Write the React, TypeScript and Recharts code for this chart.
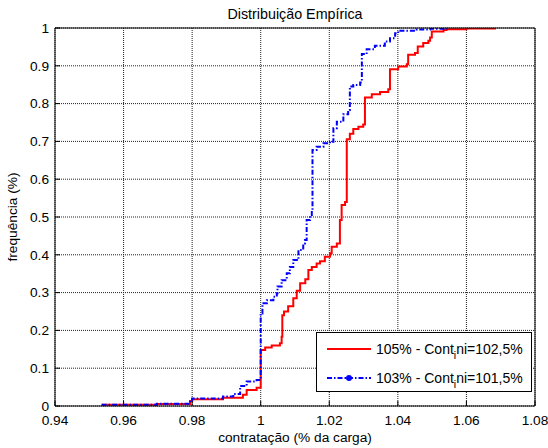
import { LineChart, Line, XAxis, YAxis, CartesianGrid, Legend } from "recharts";

// ECDF of contracted demand for two load levels (x = contratação, f = cumulative frequency)
const xTicks = [0.94, 0.96, 0.98, 1, 1.02, 1.04, 1.06, 1.08];
const yTicks = [0, 0.1, 0.2, 0.3, 0.4, 0.5, 0.6, 0.7, 0.8, 0.9, 1];

const x105 = [
  0.9536, 0.9697, 0.9794, 0.98, 0.989, 0.9948, 0.9959, 0.9988, 1.0, 1.0013,
  1.0032, 1.0056, 1.0061, 1.0063, 1.0068, 1.008, 1.0095, 1.0105, 1.0115, 1.013,
  1.0139, 1.0149, 1.0163, 1.0173, 1.0187, 1.0202, 1.0207, 1.0222, 1.0231, 1.0236,
  1.0246, 1.0251, 1.026, 1.027, 1.0285, 1.0299, 1.0304, 1.0324, 1.0348, 1.0372,
  1.0377, 1.0401, 1.0426, 1.043, 1.045, 1.0458, 1.0474, 1.0489, 1.0494, 1.0499,
  1.0533, 1.0542, 1.06, 1.0683,
];
const f105 = [
  0.003, 0.005, 0.013, 0.018, 0.022, 0.03, 0.042, 0.048, 0.148, 0.155,
  0.16, 0.166, 0.183, 0.24, 0.25, 0.264, 0.285, 0.305, 0.325, 0.335,
  0.36, 0.368, 0.377, 0.383, 0.395, 0.404, 0.421, 0.43, 0.492, 0.532,
  0.54, 0.706, 0.72, 0.733, 0.739, 0.745, 0.816, 0.825, 0.831, 0.838,
  0.891, 0.898, 0.904, 0.929, 0.934, 0.951, 0.96, 0.966, 0.975, 0.991,
  0.995, 0.997, 0.999, 1.0,
];

const x103 = [
  0.9536, 0.9697, 0.9794, 0.98, 0.989, 0.992, 0.994, 0.9959, 0.9988, 1.0,
  1.0005, 1.0018, 1.0037, 1.0047, 1.0049, 1.0061, 1.0076, 1.0085, 1.0095, 1.011,
  1.0124, 1.0129, 1.0134, 1.0144, 1.0149, 1.0151, 1.0163, 1.0183, 1.0202, 1.0212,
  1.0222, 1.0241, 1.0255, 1.026, 1.027, 1.029, 1.0295, 1.0309, 1.0333, 1.0362,
  1.0377, 1.0392, 1.0401, 1.0455, 1.0494, 1.0542,
];
const f103 = [
  0.003, 0.006, 0.016, 0.02, 0.025, 0.032, 0.053, 0.065, 0.069, 0.245,
  0.272, 0.28, 0.289, 0.298, 0.316, 0.333, 0.351, 0.368, 0.386, 0.413,
  0.43, 0.439, 0.492, 0.505, 0.519, 0.677, 0.686, 0.695, 0.699, 0.735,
  0.752, 0.772, 0.783, 0.845, 0.849, 0.856, 0.931, 0.944, 0.953, 0.964,
  0.973, 0.986, 0.993, 0.996, 0.998, 1.0,
];

const rows = (xs: number[], fs: number[]) => xs.map((x, i) => ({ x, f: fs[i] }));
const data105 = rows(x105, f105);
const data103 = rows(x103, f103);

const FONT = '"Liberation Sans", Arial, Helvetica, sans-serif';
const tickStyle = { fill: "#000", fontSize: 13.7, fontFamily: FONT };

function LegendLabel({ pct, ini }: { pct: string; ini: string }) {
  return (
    <span style={{ fontSize: 14, fontFamily: FONT, color: "#000", whiteSpace: "nowrap" }}>
      {pct} - Cont
      <sub style={{ fontSize: "0.75em", verticalAlign: "-0.45em", lineHeight: 0 }}>i</sub>
      ni={ini}
    </span>
  );
}

function LegendBox() {
  const row = { position: "absolute" as const, left: 9, height: 20, display: "flex", alignItems: "center" };
  return (
    <div
      style={{
        width: 216,
        height: 60,
        boxSizing: "border-box",
        border: "1px solid #000",
        background: "#fff",
        position: "relative",
      }}
    >
      <div style={{ ...row, top: 6 }}>
        <svg width={46} height={10} style={{ marginRight: 4 }}>
          <line x1={1} x2={45} y1={5} y2={5} stroke="#ff0000" strokeWidth={2} />
        </svg>
        <LegendLabel pct="105%" ini="102,5%" />
      </div>
      <div style={{ ...row, top: 34.5 }}>
        <svg width={46} height={10} style={{ marginRight: 4 }}>
          <line x1={1} x2={45} y1={5} y2={5} stroke="#0000ff" strokeWidth={2} strokeDasharray="5 2 1.5 2" />
          <circle cx={23} cy={5} r={3} fill="#0000ff" />
        </svg>
        <LegendLabel pct="103%" ini="101,5%" />
      </div>
    </div>
  );
}

export default function App() {
  return (
    <div
      style={{
        position: "absolute",
        left: 0,
        top: 0,
        width: 548,
        height: 448,
        background: "#fff",
        fontFamily: FONT,
      }}
    >
      <div
        style={{
          position: "absolute",
          left: 0,
          width: 590,
          top: 6.5,
          textAlign: "center",
          fontSize: 14.3,
          lineHeight: 1,
          color: "#000",
        }}
      >
        Distribuição Empírica
      </div>
      <LineChart width={548} height={448} margin={{ top: 27, right: 12, bottom: 6, left: 15 }}>
        <CartesianGrid stroke="#222" strokeDasharray="1 1" />
        <XAxis
          dataKey="x"
          type="number"
          domain={[0.94, 1.08]}
          ticks={xTicks}
          tickFormatter={(v) => String(v)}
          height={36}
          tickSize={-5}
          tickMargin={14}
          tick={tickStyle}
          tickLine={{ stroke: "#000" }}
          axisLine={{ stroke: "#000" }}
          allowDataOverflow
          label={{ value: "contratação (% da carga)", position: "insideBottom", offset: 0, fill: "#000", fontSize: 13.7 }}
        />
        <XAxis
          xAxisId="top"
          orientation="top"
          dataKey="x"
          type="number"
          domain={[0.94, 1.08]}
          ticks={xTicks}
          height={1}
          tickSize={-5}
          tick={false}
          tickLine={{ stroke: "#000" }}
          axisLine={{ stroke: "#000" }}
        />
        <YAxis
          type="number"
          domain={[0, 1]}
          ticks={yTicks}
          tickFormatter={(v) => String(v)}
          width={40}
          tickSize={-5}
          tickMargin={11}
          tick={tickStyle}
          tickLine={{ stroke: "#000" }}
          axisLine={{ stroke: "#000" }}
          allowDataOverflow
          label={{ value: "frequência (%)", angle: -90, position: "center", dx: -23, fill: "#000", fontSize: 13.7 }}
        />
        <YAxis
          yAxisId="right"
          orientation="right"
          type="number"
          domain={[0, 1]}
          ticks={yTicks}
          width={1}
          tickSize={-5}
          tick={false}
          tickLine={{ stroke: "#000" }}
          axisLine={{ stroke: "#000" }}
        />
        <Legend
          layout="horizontal"
          verticalAlign="middle"
          align="center"
          wrapperStyle={{ left: 316, top: 332, width: 216, height: 60 }}
          content={() => <LegendBox />}
        />
        <Line
          data={data105}
          dataKey="f"
          type="stepAfter"
          stroke="#ff0000"
          strokeWidth={2}
          dot={false}
          isAnimationActive={false}
        />
        <Line
          data={data103}
          dataKey="f"
          type="stepAfter"
          stroke="#0000ff"
          strokeWidth={2}
          strokeDasharray="5 2 1.5 2"
          dot={false}
          isAnimationActive={false}
        />
      </LineChart>
    </div>
  );
}
